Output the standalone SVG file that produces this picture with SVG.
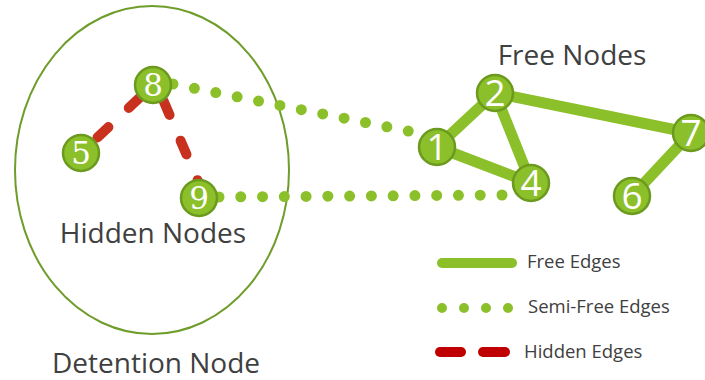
<svg xmlns="http://www.w3.org/2000/svg" width="705" height="380" viewBox="0 0 705 380">
<style>
.lbl{font-family:"Open Sans","Noto Sans","Liberation Sans",sans-serif;fill:#404040}
.free{stroke:#8cc02a;stroke-width:11;stroke-linecap:round;fill:none}
.semi{stroke:#8cc02a;stroke-width:11;stroke-linecap:round;fill:none}
.hid{stroke:#c8311e;stroke-width:10;stroke-linecap:round;fill:none;stroke-dasharray:15 28}
.node circle{fill:#8cc02a;stroke:#6b9a1e;stroke-width:2.5}
.ns{font-family:"Open Sans","Noto Sans","Liberation Sans",sans-serif;font-size:37px;fill:#fff;text-anchor:middle}
.nr{font-family:"DejaVu Serif","Liberation Serif",serif;font-size:31px;fill:#fff;text-anchor:middle}
</style>
<rect width="705" height="380" fill="#fff"/>
<g id="detention">
<ellipse cx="152" cy="170" rx="137" ry="164" fill="none" stroke="#6f9d2c" stroke-width="2"/>
<text class="lbl" x="156" y="373" font-size="28" text-anchor="middle">Detention Node</text>
</g>
<text class="lbl" x="153" y="243" font-size="28" text-anchor="middle">Hidden Nodes</text>
<text class="lbl" x="572" y="65" font-size="28" text-anchor="middle">Free Nodes</text>
<g id="connectors">
<line class="free" x1="437" y1="147" x2="495" y2="93"/>
<line class="free" x1="495" y1="93" x2="531" y2="183"/>
<line class="free" x1="437" y1="147" x2="531" y2="183"/>
<line class="free" x1="495" y1="93" x2="691" y2="133"/>
<line class="free" x1="691" y1="133" x2="632" y2="196"/>
<line class="semi" x1="173" y1="84" x2="409" y2="131.2" stroke-dasharray="0 21.81"/>
<line class="semi" x1="219" y1="197" x2="503" y2="195" stroke-dasharray="0 21.77"/>
<line class="hid" x1="81" y1="153" x2="153" y2="85" stroke-dashoffset="20.3"/>
<line class="hid" x1="158" y1="88" x2="207.3" y2="202.9" stroke-dashoffset="28.7"/>
</g>
<g id="node8" class="node"><circle cx="153" cy="85" r="18"/><text class="nr" x="153" y="96">8</text></g>
<g id="node5" class="node"><circle cx="81" cy="153" r="18"/><text class="nr" x="81" y="164">5</text></g>
<g id="node9" class="node"><circle cx="199" cy="198" r="18"/><text class="nr" x="199" y="209">9</text></g>
<g id="node1" class="node"><circle cx="437" cy="147" r="18"/><text class="ns" x="437" y="160">1</text></g>
<g id="node2" class="node"><circle cx="495" cy="93" r="18"/><text class="ns" x="495" y="106">2</text></g>
<g id="node4" class="node"><circle cx="531" cy="183" r="18"/><text class="ns" x="531" y="196">4</text></g>
<g id="node7" class="node"><circle cx="691" cy="133" r="18"/><text class="ns" x="691" y="146">7</text></g>
<g id="node6" class="node"><circle cx="632" cy="196" r="18"/><text class="ns" x="632" y="209">6</text></g>
<g id="legend">
<line x1="442" y1="263" x2="512" y2="263" stroke="#8cc02a" stroke-width="10" stroke-linecap="round"/>
<text class="lbl" x="527" y="268" font-size="18.5">Free Edges</text>
<line x1="442" y1="308" x2="509" y2="308" stroke="#8cc02a" stroke-width="10" stroke-linecap="round" stroke-dasharray="0 22"/>
<text class="lbl" x="528" y="313" font-size="18.5">Semi-Free Edges</text>
<line x1="440" y1="352" x2="461" y2="352" stroke="#c00000" stroke-width="10" stroke-linecap="round"/>
<line x1="483" y1="352" x2="505" y2="352" stroke="#c00000" stroke-width="10" stroke-linecap="round"/>
<text class="lbl" x="524" y="358" font-size="18.5">Hidden Edges</text>
</g>
</svg>
